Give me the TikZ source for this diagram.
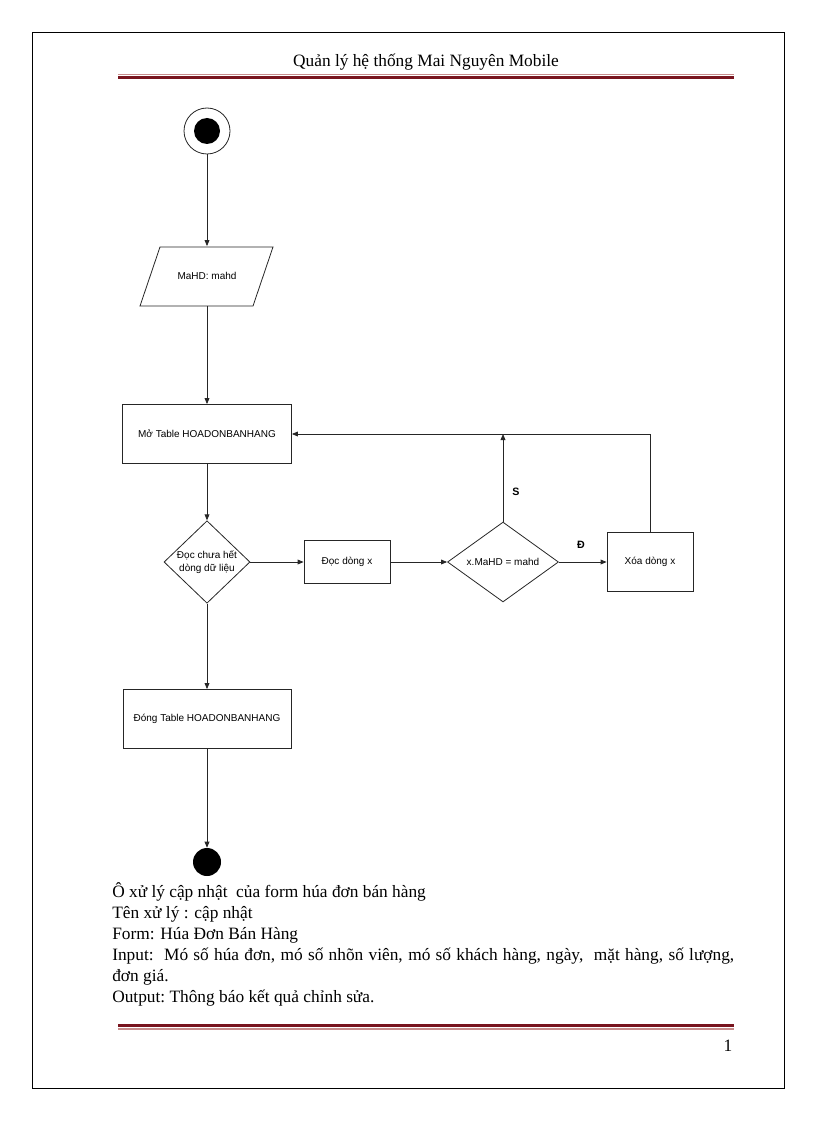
\documentclass[tikz,border=0pt]{standalone}
\usepackage{fontspec}
\setmainfont{Liberation Serif}
\newfontfamily\arialf{Liberation Sans}
\usetikzlibrary{shapes.geometric,arrows.meta}
\definecolor{darkred}{RGB}{120,20,30}
\definecolor{lightred}{RGB}{200,140,140}
\begin{document}
\begin{tikzpicture}[x=0.75pt,y=-0.75pt,
  flow/.style={draw=black!85, line width=0.6pt, font=\arialf\fontsize{7.5}{9.5}\selectfont, inner sep=0pt, align=center},
  box/.style={flow, rectangle},
  dia/.style={flow, diamond},
  arr/.style={-{Triangle[length=4.5pt,width=3.6pt]}, line width=0.6pt, draw=black!85},
  lbl/.style={font=\arialf\bfseries\fontsize{8}{10}\selectfont},
  body/.style={anchor=base west, inner sep=0pt, font=\fontsize{13}{16}\selectfont}
]
\useasboundingbox (0,0) rectangle (816,1123);
% page frame
\draw[line width=0.75pt] (32,33) rectangle (784,1088);
% header
\node[inner sep=0pt, anchor=base, font=\fontsize{13}{16}\selectfont] (head) at (426,67) {Quản lý hệ thống Mai Nguyên Mobile};
\fill[lightred] (118,74) rectangle (734,75.5);
\fill[darkred] (118,76.5) rectangle (734,79.5);
% footer
\fill[darkred] (118,1024) rectangle (734,1027);
\fill[lightred] (118,1028) rectangle (734,1029.5);
\node[inner sep=0pt, anchor=base, font=\fontsize{13}{16}\selectfont] (pg) at (728,1051) {1};

% flowchart
\node[circle, draw=black!85, line width=0.6pt, minimum size=34.5pt, inner sep=0pt] (start) at (207,131) {};
\node[circle, fill=black, minimum size=19.5pt, inner sep=0pt] (startdot) at (207,131) {};
\node[flow, draw=none, rectangle, minimum width=99.75pt, minimum height=44.25pt] (inp) at (207,276) {MaHD: mahd};
\draw[draw=black!85, line width=0.6pt] (160,247) -- (273,247) -- (253,306) -- (140,306) -- cycle;
\node[box, minimum width=126.75pt, minimum height=44.25pt] (open) at (207,434) {Mở Table HOADONBANHANG};
\node[dia, minimum width=64.5pt, minimum height=58.5pt] (d1) at (207,562) {Đọc chưa hết\\dòng dữ liệu};
\node[box, minimum width=64.5pt, minimum height=32.25pt] (read) at (347,562) {Đọc dòng x};
\node[dia, minimum width=83.25pt, minimum height=43.5pt] (d2) at (503,562) {x.MaHD = mahd};
\node[box, minimum width=64.5pt, minimum height=44.25pt] (del) at (650,562) {Xóa dòng x};
\node[box, minimum width=126pt, minimum height=44.25pt] (close) at (207,719) {Đóng Table HOADONBANHANG};
\node[circle, fill=black, minimum size=21pt, inner sep=0pt] (end) at (207,862) {};

\coordinate (j) at (d2.north |- open.east);
\draw[arr] (start) -- (inp);
\draw[arr] (inp) -- (open);
\draw[arr] (open) -- (d1);
\draw[arr] (d1) -- (read);
\draw[arr] (read) -- (d2);
\draw[arr] (d2) -- (del);
\node[lbl] (lblD) at (581,545) {Đ};
\draw[arr] (d2.north) -- (j);
\node[lbl] (lblS) at (516,492) {S};
\draw[arr] (del.north) |- (open.east);
\draw[arr] (d1) -- (close);
\draw[arr] (close) -- (end);

% description text
\node[body] (t1) at (112,897) {Ô xử lý cập nhật\ \ của form húa đơn bán\ hàng};
\node[body] (t2) at (112,918) {Tên xử lý : cập nhật};
\node[body] (t3) at (112,939) {Form: Húa Đơn Bán Hàng};
\node[body] (t4) at (112,960) {\makebox[466.5pt][s]{Input:\ \ Mó số húa đơn, mó số nhõn viên, mó số khách hàng, ngày,\ \ mặt hàng, số lượng,}};
\node[body] (t5) at (112,981) {đơn giá.};
\node[body] (t6) at (112,1002) {Output:\ Thông\ báo kết quả chỉnh sửa.};
\end{tikzpicture}
\end{document}
